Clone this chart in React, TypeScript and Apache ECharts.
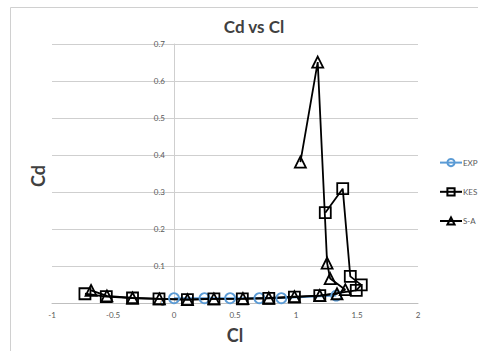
import React, { useEffect, useRef } from "react";
import * as echarts from "echarts";

const expCl = [0.0, 0.25, 0.46, 0.7, 0.88, 1.33];
const expCd = [0.013, 0.013, 0.013, 0.013, 0.013, 0.02];

const kesCl = [-0.73, -0.555, -0.34, -0.123, 0.11, 0.327, 0.56, 0.777, 0.987, 1.195, 1.494, 1.535, 1.445, 1.383, 1.24];
const kesCd = [0.025, 0.017, 0.0135, 0.011, 0.009, 0.011, 0.011, 0.0127, 0.016, 0.02, 0.034, 0.049, 0.072, 0.309, 0.244];

const saCl = [-0.68, -0.55, -0.34, -0.12, 0.11, 0.327, 0.565, 0.777, 0.987, 1.195, 1.336, 1.404, 1.28, 1.255, 1.178, 1.036];
const saCd = [0.034, 0.019, 0.0135, 0.011, 0.009, 0.011, 0.012, 0.0135, 0.017, 0.02, 0.025, 0.036, 0.066, 0.108, 0.651, 0.381];

const zip = (a: number[], b: number[]) => a.map((v, i) => [v, b[i]]);

export default function App() {
  const ref = useRef<HTMLDivElement>(null);
  useEffect(() => {
    if (!ref.current) return;
    const chart = echarts.init(ref.current, null, { renderer: "svg" });
    const font = "Lato, 'Open Sans', sans-serif";
    chart.setOption({
      animation: false,
      backgroundColor: "#ffffff",
      title: {
        text: "Cd vs Cl",
        left: 249,
        top: 13,
        textAlign: "center",
        textStyle: { fontFamily: font, fontSize: 17, fontWeight: "bold", color: "#404040" },
      },
      grid: { left: 52, right: 60, top: 44, bottom: 48 },
      legend: {
        orient: "vertical",
        left: 434,
        top: 153,
        itemWidth: 22,
        itemHeight: 9,
        itemGap: 20,
        data: ["EXP", "KES", "S-A"],
        textStyle: { fontFamily: font, fontSize: 8, color: "#595959", padding: [0, 0, 0, -4] },
      },
      xAxis: {
        type: "value",
        min: -1,
        max: 2,
        interval: 0.5,
        axisLine: { lineStyle: { color: "#bfbfbf" } },
        axisTick: { show: false },
        splitLine: { show: false },
        axisLabel: { fontFamily: font, fontSize: 8, color: "#595959", margin: 8 },
      },
      yAxis: {
        type: "value",
        min: 0,
        max: 0.7,
        interval: 0.1,
        axisLine: { show: true, onZero: true, lineStyle: { color: "#cfcfcf" } },
        axisTick: { show: false },
        splitLine: { show: true, lineStyle: { color: "#cfcfcf", width: 1 } },
        axisLabel: { fontFamily: font, fontSize: 8, color: "#595959", margin: -113 },
      },
      graphic: [
        {
          type: "rect",
          shape: { x: 10.5, y: 7.5, width: 480, height: 360 },
          style: { fill: "none", stroke: "#d0d0d0", lineWidth: 1 },
          silent: true,
        },
        {
          type: "text",
          x: 38,
          y: 176,
          rotation: Math.PI / 2,
          style: {
            text: "Cd",
            fontFamily: font,
            fontSize: 18,
            fontWeight: "bold",
            fill: "#404040",
            align: "center",
            verticalAlign: "middle",
          },
        },
        {
          type: "text",
          x: 235,
          y: 335,
          style: {
            text: "Cl",
            fontFamily: font,
            fontSize: 18,
            fontWeight: "bold",
            fill: "#404040",
            align: "center",
            verticalAlign: "middle",
          },
        },
      ],
      series: [
        {
          name: "EXP",
          type: "line",
          data: zip(expCl, expCd),
          symbol: "circle",
          symbolSize: 10,
          lineStyle: { color: "#5b9bd5", width: 1.8 },
          itemStyle: { color: "rgba(255,255,255,0)", borderColor: "#5b9bd5", borderWidth: 1.8 },
        },
        {
          name: "KES",
          type: "line",
          data: zip(kesCl, kesCd),
          symbol: "rect",
          symbolSize: 11,
          lineStyle: { color: "#000000", width: 1.8 },
          itemStyle: { color: "rgba(255,255,255,0)", borderColor: "#000000", borderWidth: 1.8 },
        },
        {
          name: "S-A",
          type: "line",
          data: zip(saCl, saCd),
          symbol: "triangle",
          symbolSize: 11,
          lineStyle: { color: "#000000", width: 1.8 },
          itemStyle: { color: "rgba(255,255,255,0)", borderColor: "#000000", borderWidth: 1.8 },
        },
      ],
    });
    return () => chart.dispose();
  }, []);
  return <div ref={ref} style={{ position: "absolute", left: 0, top: 0, width: 478, height: 351 }} />;
}
